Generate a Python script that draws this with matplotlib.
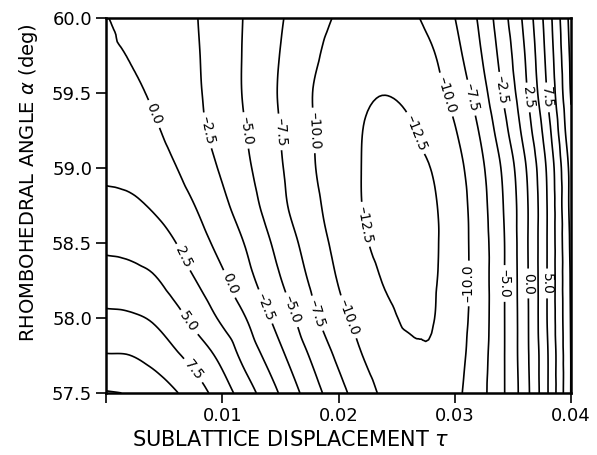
import matplotlib
matplotlib.use("Agg")
import numpy as np
import matplotlib.pyplot as plt
import matplotlib.tri as mtri

plt.rcParams['font.family'] = ['DejaVu Sans']
plt.rcParams['contour.negative_linestyle'] = 'solid'

# sublattice displacement tau (columns) and rhombohedral angle alpha (rows)
tau = [0.000, 0.002, 0.004, 0.006, 0.008, 0.010, 0.012, 0.014, 0.016, 0.018, 0.020,
       0.022, 0.024, 0.026, 0.028, 0.030, 0.032, 0.034, 0.036, 0.038, 0.040]
alpha = [57.50, 57.75, 58.00, 58.25, 58.50, 58.75, 59.00, 59.25, 59.50, 59.75, 60.00]

# energy, one list per alpha row
e_5750 = [12.65, 12.37, 11.55, 10.17, 8.36, 6.17, 3.70, 1.10, -1.59, -4.23, -6.65,
          -8.73, -10.53, -11.48, -11.49, -10.55, -8.50, -5.55, -1.15, 4.92, 12.6]
e_5775 = [10.13, 10.03, 9.20, 7.85, 6.25, 4.26, 1.65, -0.73, -3.24, -5.69, -8.00,
          -9.95, -11.46, -12.10, -12.25, -10.92, -8.72, -5.57, -0.98, 4.93, 12.6]
e_5800 = [8.00, 7.84, 7.25, 5.80, 3.95, 2.05, 0.04, -2.37, -4.70, -7.20, -9.27,
          -10.85, -12.05, -12.72, -12.62, -11.15, -8.95, -5.59, -0.94, 5.21, 12.7]
e_5825 = [6.13, 5.90, 5.35, 3.90, 2.27, 0.51, -1.59, -3.77, -6.00, -8.19, -10.12,
          -11.50, -12.64, -13.08, -12.76, -11.30, -8.95, -5.59, -0.87, 5.21, 12.8]
e_5850 = [4.50, 4.30, 3.70, 2.52, 0.86, -0.85, -2.64, -4.79, -6.94, -8.94, -10.70,
          -12.15, -13.13, -13.36, -12.86, -11.35, -8.91, -5.59, -0.80, 5.21, 13.0]
e_5875 = [3.13, 2.93, 2.28, 1.20, -0.29, -1.95, -3.79, -5.81, -7.87, -9.58, -11.10,
          -12.49, -13.26, -13.36, -12.78, -11.30, -8.75, -5.35, -0.80, 5.21, 13.3]
e_5900 = [2.00, 1.80, 1.20, 0.07, -1.40, -2.81, -4.52, -6.35, -8.18, -9.97, -11.30,
          -12.52, -13.10, -13.08, -12.45, -10.90, -8.38, -4.93, -0.38, 5.50, 13.4]
e_5925 = [1.13, 0.93, 0.33, -0.75, -2.05, -3.42, -4.97, -6.67, -8.38, -10.08, -11.35,
          -12.47, -12.92, -12.73, -11.75, -10.15, -7.56, -3.75, 0.85, 6.59, 14.5]
e_5950 = [0.50, 0.32, -0.20, -1.08, -2.32, -3.77, -5.25, -6.91, -8.54, -10.17, -11.43,
          -12.20, -12.47, -12.12, -11.00, -9.20, -6.50, -2.63, 1.83, 7.74, 15.2]
e_5975 = [0.13, -0.04, -0.52, -1.32, -2.44, -3.82, -5.24, -6.81, -8.29, -9.71, -11.05,
          -11.80, -11.92, -11.42, -10.29, -8.30, -5.54, -1.83, 2.41, 8.33, 15.5]
e_6000 = [0.02, -0.16, -0.64, -1.44, -2.56, -3.85, -5.16, -6.61, -7.95, -9.11, -10.29,
          -10.98, -11.05, -10.50, -9.30, -7.53, -4.84, -1.13, 3.07, 8.82, 15.9]

levels = [-12.5, -10.0, -7.5, -5.0, -2.5, 0.0, 2.5, 5.0, 7.5, 10.0, 12.5, 15.0]

# which level gets a label, and roughly where (tau, alpha)
label_levels = [0.0, -2.5, -5.0, -7.5, -10.0, -10.0, -7.5, -2.5, 2.5, 7.5,
                -12.5, -12.5, 2.5, 5.0, 7.5, 0.0, -2.5, -5.0, -7.5, -10.0,
                -10.0, -5.0, 0.0, 5.0]
label_spots = [(0.0038, 59.35), (0.0087, 59.25), (0.0120, 59.25), (0.0149, 59.24),
               (0.0178, 59.25), (0.0293, 59.49), (0.0315, 59.47), (0.0341, 59.52),
               (0.0363, 59.47), (0.0379, 59.47), (0.0272, 59.25), (0.0220, 58.62),
               (0.0065, 58.40), (0.0071, 57.97), (0.0075, 57.65), (0.0107, 58.23),
               (0.0135, 58.07), (0.0158, 58.05), (0.0181, 58.03), (0.0206, 58.00),
               (0.0315, 58.23), (0.0343, 58.23), (0.0363, 58.23), (0.0380, 58.23)]

energy = np.array([e_5750, e_5775, e_5800, e_5825, e_5850, e_5875,
                   e_5900, e_5925, e_5950, e_5975, e_6000])

# smooth the drawn lines with matplotlib's own triangle refiner (grid in index units)
ci, ri = np.meshgrid(np.arange(len(tau)), np.arange(len(alpha)))
tri = mtri.Triangulation(ci.ravel().astype(float), ri.ravel().astype(float))
refiner = mtri.UniformTriRefiner(tri)
interp = mtri.CubicTriInterpolator(tri, energy.ravel(), kind='geom')
fine_tri, fine_e = refiner.refine_field(energy.ravel(), triinterpolator=interp, subdiv=3)
fx = np.interp(fine_tri.x, np.arange(len(tau)), tau)
fy = np.interp(fine_tri.y, np.arange(len(alpha)), alpha)
plot_tri = mtri.Triangulation(fx, fy, fine_tri.triangles)

fig = plt.figure(figsize=(5.97, 4.55), dpi=100)
ax = fig.add_axes([0.1776, 0.1363, 0.7789, 0.8242])


def fmt(v):
    return f"{v:.1f}".replace("-", "\u2013")


# one contour set per level so each label lands on its own line
for lvl in levels:
    cs = ax.tricontour(plot_tri, fine_e, levels=[lvl], colors='black',
                       linewidths=1.2, linestyles='solid')
    spots = [s for l, s in zip(label_levels, label_spots) if l == lvl]
    if spots:
        ax.clabel(cs, manual=spots, fmt=fmt, fontsize=10, inline=True,
                  inline_spacing=4)

ax.set_xlim(0, 0.04)
ax.set_ylim(57.5, 60.0)
ax.set_xticks([0, 0.01, 0.02, 0.03, 0.04])
ax.set_xticklabels(['', '0.01', '0.02', '0.03', '0.04'])
ax.set_yticks([57.5, 58.0, 58.5, 59.0, 59.5, 60.0])
ax.set_yticklabels(['57.5', '58.0', '58.5', '59.0', '59.5', '60.0'])
ax.tick_params(direction='out', length=7, width=1.2, labelsize=13, pad=3)
for sp in ax.spines.values():
    sp.set_linewidth(1.8)

fig.text(0.487, 0.033, "SUBLATTICE DISPLACEMENT $\\tau$", ha='center', va='center',
         fontsize=15)
fig.text(0.047, 0.598, "RHOMBOHEDRAL ANGLE $\\alpha$ (deg)", ha='center', va='center',
         rotation=90, fontsize=14)

fig.savefig("out.png", dpi=100)
